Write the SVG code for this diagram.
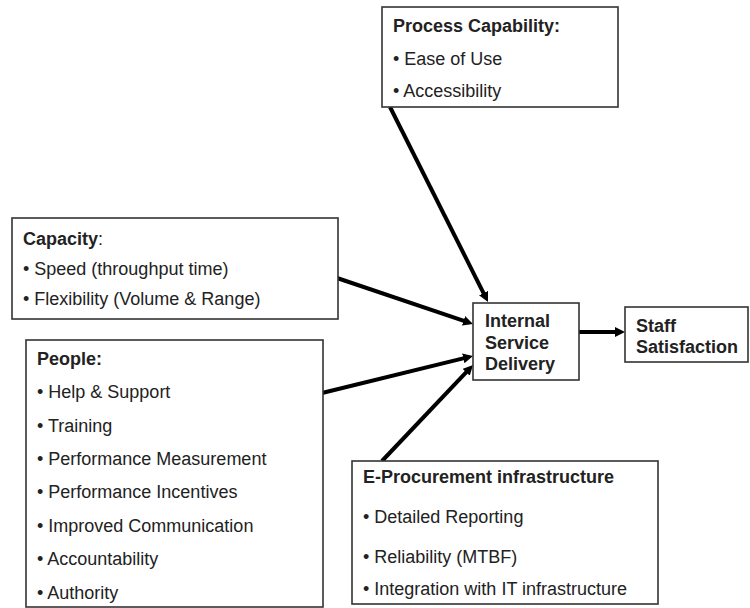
<svg xmlns="http://www.w3.org/2000/svg" width="750" height="608" viewBox="0 0 750 608">
<style>
  .box { fill: #ffffff; stroke: #333333; stroke-width: 1.6; }
  .t { font-family: "Liberation Sans", Arial, sans-serif; font-size: 18px; fill: #222222; }
  .b { font-weight: bold; }
  .conn { stroke: #000000; stroke-width: 4; fill: none; marker-end: url(#arrow); }
</style>
<defs>
  <marker id="arrow" viewBox="0 0 10 10" refX="2" refY="5" markerWidth="10" markerHeight="10" markerUnits="userSpaceOnUse" orient="auto">
    <path d="M0,0 L10,5 L0,10 z" fill="#000000"/>
  </marker>
</defs>
<rect width="750" height="608" fill="#ffffff"/>

<g id="connectors">
  <line class="conn" x1="390" y1="107" x2="484.4" y2="294.8"/>
  <line class="conn" x1="337" y1="278" x2="465.4" y2="321.4"/>
  <line class="conn" x1="322" y1="393" x2="465.2" y2="357.9"/>
  <line class="conn" x1="382" y1="461" x2="467.5" y2="370.8"/>
  <line class="conn" x1="579" y1="332" x2="617" y2="332"/>
</g>

<g id="process-capability">
  <rect class="box" x="382" y="7" width="236" height="100"/>
  <text class="t b" x="393" y="32">Process Capability:</text>
  <text class="t" x="393" y="65">• Ease of Use</text>
  <text class="t" x="393" y="97">• Accessibility</text>
</g>

<g id="capacity">
  <rect class="box" x="12" y="218" width="326" height="101"/>
  <text class="t" x="23" y="245"><tspan class="b">Capacity</tspan>:</text>
  <text class="t" x="23" y="275">• Speed (throughput time)</text>
  <text class="t" x="23" y="305">• Flexibility (Volume &amp; Range)</text>
</g>

<g id="people">
  <rect class="box" x="26" y="340" width="297" height="267"/>
  <text class="t b" x="37" y="365">People:</text>
  <text class="t" x="37" y="398">• Help &amp; Support</text>
  <text class="t" x="37" y="432">• Training</text>
  <text class="t" x="37" y="465">• Performance Measurement</text>
  <text class="t" x="37" y="498">• Performance Incentives</text>
  <text class="t" x="37" y="532">• Improved Communication</text>
  <text class="t" x="37" y="565">• Accountability</text>
  <text class="t" x="37" y="599">• Authority</text>
</g>

<g id="internal-service-delivery">
  <rect class="box" x="473" y="303" width="106" height="77"/>
  <text class="t b" x="485" y="327">Internal</text>
  <text class="t b" x="485" y="349">Service</text>
  <text class="t b" x="485" y="370">Delivery</text>
</g>

<g id="staff-satisfaction">
  <rect class="box" x="625" y="307" width="123" height="55"/>
  <text class="t b" x="636" y="332">Staff</text>
  <text class="t b" x="636" y="353">Satisfaction</text>
</g>

<g id="e-procurement">
  <rect class="box" x="352" y="461" width="306" height="143"/>
  <text class="t b" x="363" y="483">E-Procurement infrastructure</text>
  <text class="t" x="363" y="523">• Detailed Reporting</text>
  <text class="t" x="363" y="563">• Reliability (MTBF)</text>
  <text class="t" x="363" y="595">• Integration with IT infrastructure</text>
</g>
</svg>
